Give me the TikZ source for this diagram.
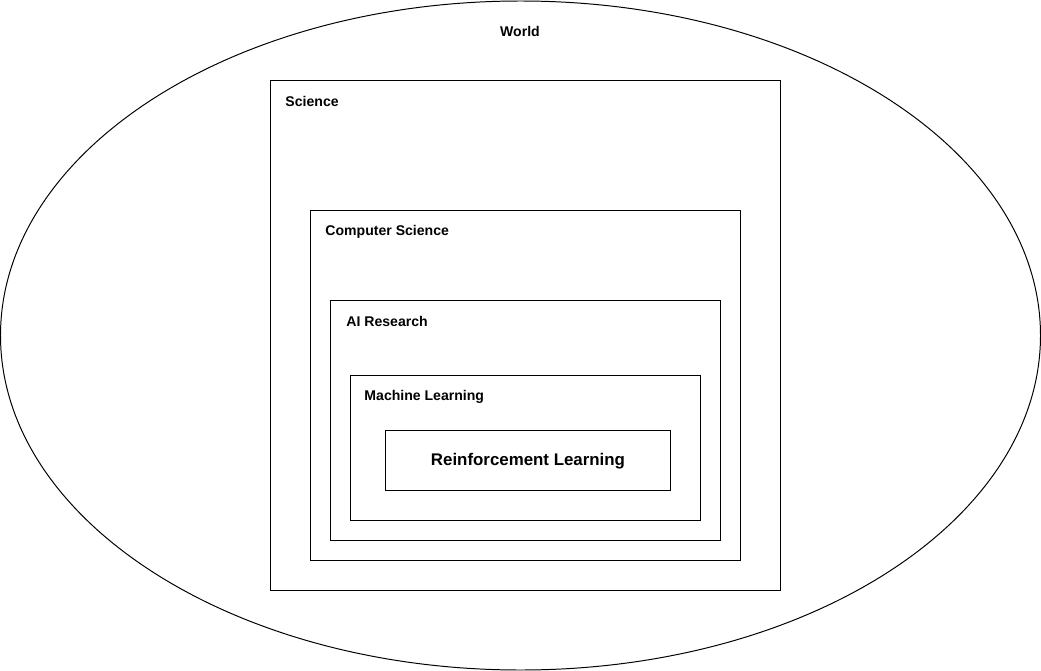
\documentclass[tikz,border=0pt]{standalone}
\usepackage{fontspec}
\setmainfont{Liberation Sans}
\usepackage{tikz}
\usetikzlibrary{shapes.geometric}

\begin{document}
\begin{tikzpicture}[x=0.025cm,y=-0.025cm,line width=0.7pt,
  areabox/.style={draw,rectangle,inner sep=0,anchor=north west},
  arealabel/.style={anchor=west,inner sep=0,font=\fontsize{10}{12}\selectfont\bfseries}]
 \useasboundingbox (0,0) rectangle (1041,671);

 \node [draw,ellipse,inner sep=0,minimum width=1040*0.025cm,minimum height=669*0.025cm] (world) at (520.5,335.5) {};
 \node [areabox,minimum width=510*0.025cm,minimum height=510*0.025cm] (science) at (270,80) {};
 \node [areabox,minimum width=430*0.025cm,minimum height=350*0.025cm] (cs) at (310,210) {};
 \node [areabox,minimum width=390*0.025cm,minimum height=240*0.025cm] (ai) at (330,300) {};
 \node [areabox,minimum width=350*0.025cm,minimum height=145*0.025cm] (ml) at (350,375) {};
 \node [areabox,minimum width=285*0.025cm,minimum height=60*0.025cm] (rl) at (385,430) {};

 \node [arealabel,anchor=center] (worldlabel) at (520,31) {World};
 \node [arealabel] (sciencelabel) at (285,101) {Science};
 \node [arealabel] (cslabel) at (325,232) {Computer Science};
 \node [arealabel] (ailabel) at (346,321) {AI Research};
 \node [arealabel] (mllabel) at (364,397) {Machine Learning};
 \node [font=\fontsize{12}{14}\selectfont\bfseries,inner sep=0] (rllabel) at (528,461) {Reinforcement Learning};
\end{tikzpicture}
\end{document}
